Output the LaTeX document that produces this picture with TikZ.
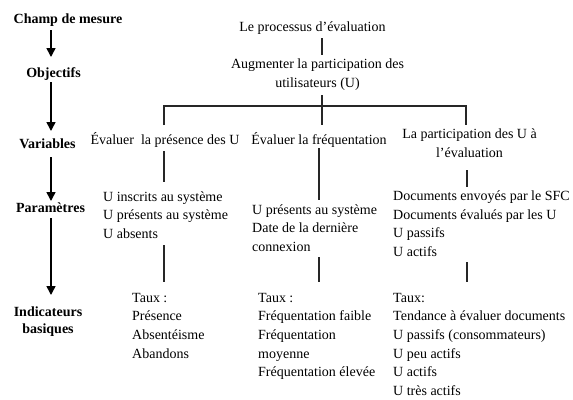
\documentclass[tikz,border=0pt]{standalone}
\usepackage{fontspec}
\setmainfont{Liberation Serif}
\usetikzlibrary{arrows.meta}
\begin{document}
\begin{tikzpicture}[x=1pt,y=-1pt,
  txt/.style={inner sep=0pt,font=\fontsize{14}{18.7}\selectfont},
  blk/.style={txt,align=left,anchor=base west},
  ctr/.style={txt,align=center,anchor=base},
  lbl/.style={inner sep=0pt,font=\fontsize{14}{17.5}\selectfont\bfseries,align=center,anchor=base},
  link/.style={draw=black!85,line width=1.1pt},
  arr/.style={draw=black,line width=1.6pt,-{Triangle[length=9pt,width=9pt]}}]
\useasboundingbox[fill=white] (0,0) rectangle (573,399);

% left column labels (anchor = baseline of the last line)
\node[lbl] (champ) at (68,23) {Champ de mesure};
\node[lbl] (obj) at (53.5,77) {Objectifs};
\node[lbl] (var) at (47.5,148) {Variables};
\node[lbl] (par) at (50.5,212) {Paramètres};
\node[lbl] (ind) at (48,333.5) {Indicateurs\\basiques};

\coordinate (a1s) at (51,30);  \coordinate (a1e) at (51,57);
\coordinate (a2s) at (51,82);  \coordinate (a2e) at (51,131);
\coordinate (a3s) at (51,157); \coordinate (a3e) at (51,201);
\coordinate (a4s) at (51,218); \coordinate (a4e) at (51,295);
\draw[arr] (a1s) -- (a1e);
\draw[arr] (a2s) -- (a2e);
\draw[arr] (a3s) -- (a3e);
\draw[arr] (a4s) -- (a4e);

% top
\node[ctr] (proc) at (312.5,31) {Le processus d’évaluation};
\node[ctr] (aug) at (317.5,87.5) {Augmenter la participation des\\utilisateurs (U)};

% variables
\node[ctr] (v1) at (165,144) {Évaluer \ la présence des U};
\node[ctr] (v2) at (319,144) {Évaluer la fréquentation};
\node[ctr] (v3) at (469.5,157) {La participation des U à\\l’évaluation};

% parameters
\node[blk] (p1) at (103,238.4) {U inscrits au système\\U présents au système\\U absents};
\node[blk] (p2) at (252,251.4) {U présents au système\\Date de la dernière\\connexion};
\node[blk] (p3) at (393,256.6) {Documents envoyés par le SFC\\Documents évalués par les U\\U passifs\\U actifs};

% indicators
\node[blk] (i1) at (132,358.1) {Taux :\\Présence\\Absentéisme\\Abandons};
\node[blk] (i2) at (258,376.8) {Taux :\\Fréquentation faible\\Fréquentation\\moyenne\\Fréquentation élevée};
\node[blk] (i3) at (393,395.5) {Taux:\\Tendance à évaluer documents\\U passifs (consommateurs)\\U peu actifs\\U actifs\\U très actifs};

% connector coordinates
\coordinate (c0a) at (322,38);  \coordinate (c0b) at (322,55);
\coordinate (c1a) at (322,95);  \coordinate (c1b) at (322,125);
\coordinate (hl) at (164,106);  \coordinate (hr) at (466,106);
\coordinate (hlb) at (164,125); \coordinate (hrb) at (466,125);
\coordinate (l1a) at (164,151); \coordinate (l1b) at (164,182);
\coordinate (l2a) at (319,148); \coordinate (l2b) at (319,200);
\coordinate (l3a) at (467,170); \coordinate (l3b) at (467,187);
\coordinate (m1a) at (164,245); \coordinate (m1b) at (164,282);
\coordinate (m2a) at (319,257); \coordinate (m2b) at (319,282);
\coordinate (m3a) at (467,262); \coordinate (m3b) at (467,282);

\draw[link] (c0a) -- (c0b);
\draw[link] (c1a) -- (c1b);
\draw[link] (hlb) -- (hl) -- (hr) -- (hrb);
\draw[link] (l1a) -- (l1b);
\draw[link] (l2a) -- (l2b);
\draw[link] (l3a) -- (l3b);
\draw[link] (m1a) -- (m1b);
\draw[link] (m2a) -- (m2b);
\draw[link] (m3a) -- (m3b);
\end{tikzpicture}
\end{document}
